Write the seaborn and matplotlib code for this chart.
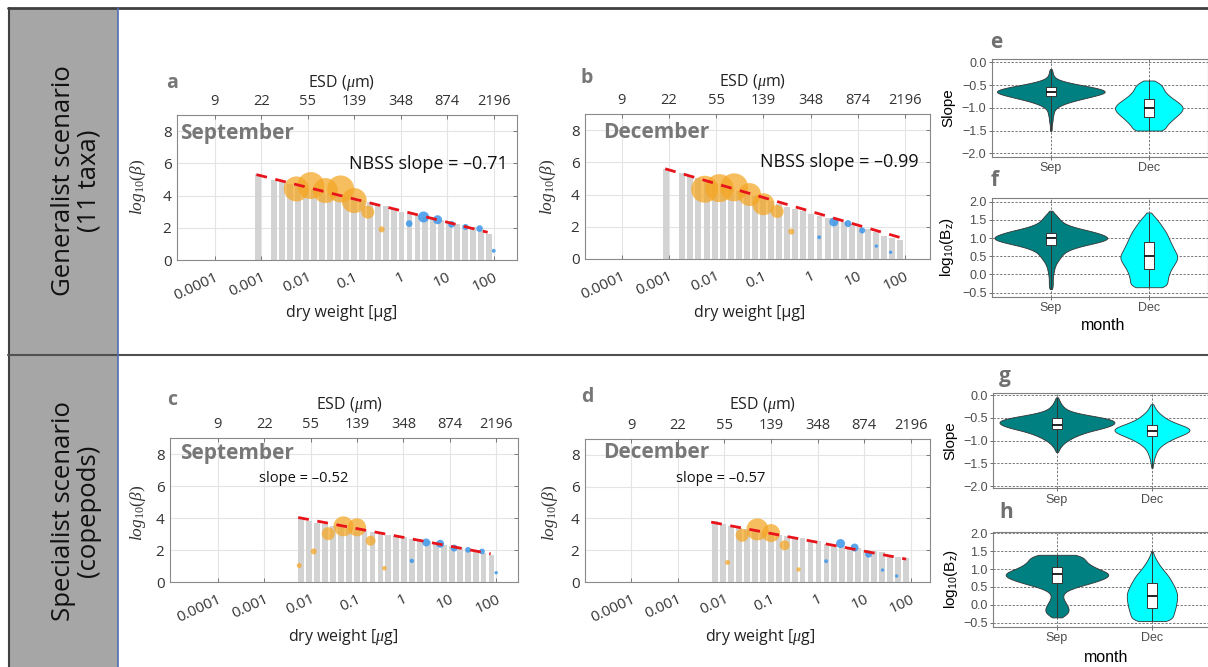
import numpy as np
import pandas as pd
import matplotlib
matplotlib.use("Agg")
import matplotlib.pyplot as plt
import seaborn as sns
from matplotlib.patches import Rectangle
from matplotlib.lines import Line2D
from matplotlib.ticker import NullLocator

# ------------------------------------------------------------------ data
# size bins (dry weight, ug) of the NBSS bars
dw_bins = [0.000871, 0.001291, 0.001914, 0.002838, 0.004207, 0.006237, 0.009247,
           0.01371, 0.02032, 0.03013, 0.04467, 0.06622, 0.09817, 0.1455, 0.2158,
           0.3199, 0.4742, 0.7031, 1.042, 1.545, 2.291, 3.396, 5.035, 7.464,
           11.07, 16.41, 24.32, 36.06, 53.46, 79.25]
gen_sep_bars = [5.33, 0.0, 4.96, 4.86, 4.73, 4.63, 4.50, 4.41, 4.27, 4.18, 4.05, 3.95,
                3.82, 3.73, 3.60, 3.49, 3.33, 3.18, 2.97, 2.86, 2.77, 2.67, 2.56, 2.46,
                2.36, 2.26, 2.15, 2.05, 1.85, 1.64]
gen_dec_bars = [5.60, 0.0, 5.33, 5.23, 5.03, 4.88, 4.72, 4.55, 4.40, 4.22, 4.06, 3.90,
                3.74, 3.58, 3.40, 3.22, 3.10, 3.00, 2.79, 2.69, 2.55, 2.42, 2.28, 2.18,
                1.98, 1.87, 1.67, 1.40, 1.32, 1.16]
# copepod bars start at the 6th bin
spec_sep_bars = [3.98, 3.79, 3.69, 3.60, 3.52, 3.44, 3.36, 3.28, 3.20, 3.13, 3.06, 2.96,
                 2.85, 2.79, 2.70, 2.64, 2.54, 2.42, 2.33, 2.22, 2.12, 2.02, 1.92, 1.82, 1.70]
spec_dec_bars = [3.81, 3.62, 3.55, 3.42, 3.33, 3.22, 3.12, 3.03, 2.96, 2.90, 2.83, 2.75,
                 2.67, 2.56, 2.42, 2.36, 2.28, 2.20, 2.12, 2.02, 1.94, 1.86, 1.73, 1.60, 1.52]

# taxa points (dry weight, ug)
orange_dw = [0.0057, 0.0117, 0.024, 0.051, 0.100, 0.196, 0.39]
blue_dw = [1.52, 3.1, 6.2, 12.4, 24.7, 49.5, 100.0]

gen_sep_orange = [4.41, 4.62, 4.31, 4.41, 3.69, 2.97, 1.90]
gen_sep_orange_size = [324, 378, 324, 378, 324, 88, 19]
gen_sep_blue = [2.26, 2.67, 2.50, 2.21, 2.05, 1.95, 0.57]
gen_sep_blue_size = [23, 63, 42, 23, 19, 23, 8]

gen_dec_orange = [4.33, 4.40, 4.45, 4.00, 3.40, 2.95, 1.70]
gen_dec_orange_size = [378, 406, 406, 274, 251, 88, 19]
gen_dec_blue = [1.35, 2.30, 2.20, 1.77, 0.80, 0.42]
gen_dec_blue_size = [8, 42, 25, 19, 6, 6]

spec_sep_orange = [1.03, 1.91, 3.02, 3.48, 3.42, 2.58, 0.86]
spec_sep_orange_size = [13, 19, 88, 207, 170, 52, 11]
spec_sep_blue = [1.32, 2.47, 2.39, 2.12, 2.01, 1.91, 0.58]
spec_sep_blue_size = [10, 33, 33, 25, 17, 17, 6]

spec_dec_orange = [1.23, 2.94, 3.31, 3.08, 2.31, 0.79]
spec_dec_orange_size = [13, 88, 251, 168, 52, 10]
spec_dec_blue = [1.31, 2.42, 2.17, 1.75, 0.75, 0.38]
spec_dec_blue_size = [8, 42, 33, 25, 6, 6]

# fitted NBSS lines (end points)
gen_sep_fit_x, gen_sep_fit_y = [0.00079, 74.0], [5.30, 1.72]
gen_dec_fit_x, gen_dec_fit_y = [0.00083, 91.0], [5.60, 1.28]
spec_sep_fit_x, spec_sep_fit_y = [0.0054, 76.0], [4.03, 1.76]
spec_dec_fit_x, spec_dec_fit_y = [0.0052, 79.0], [3.77, 1.44]

dw_ticks = [1e-4, 1e-3, 1e-2, 1e-1, 1, 10, 100]
dw_labels = ['0.0001', '0.001', '0.01', '0.1', '1', '10', '100']
esd_labels = ['9', '22', '55', '139', '348', '874', '2196']

# violin distributions: (lowest level, counts per 0.05 step)
e_sep_lo = -1.50
e_sep_counts = [1, 1, 1, 1, 2, 2, 2, 3, 3, 4, 6, 10, 16, 24, 34, 44, 54, 60, 56, 46, 32, 20,
                10, 5, 3, 2, 2, 1]
e_dec_lo = -1.50
e_dec_counts = [30, 24, 26, 30, 33, 37, 41, 45, 49, 52, 53, 51, 47, 42, 37, 32, 28, 25, 22,
                22, 20, 16, 8]
f_sep_lo = -0.40
f_sep_counts = [2, 3, 3, 3, 3, 3, 3, 3, 4, 4, 5, 5, 6, 7, 8, 10, 12, 14, 16, 18,
                20, 25, 30, 40, 50, 65, 76, 88, 90, 86, 78, 70, 60, 45, 34, 26, 20, 16,
                14, 12, 10, 7, 4, 2]
f_dec_lo = -0.35
f_dec_counts = [45, 33, 30, 31, 32, 32, 33, 34, 35, 36, 38, 40, 42, 44, 46, 48, 50, 50, 48,
                46, 44, 42, 41, 40, 38, 36, 35, 34, 33, 31, 29, 28, 26, 23, 21, 19, 17, 15,
                12, 9, 6, 3]
g_sep_lo = -1.25
g_sep_counts = [1, 2, 3, 5, 7, 10, 14, 18, 24, 30, 40, 48, 54, 56, 54, 46, 32, 20, 12, 8, 6,
                4, 3, 2, 1]
g_dec_lo = -1.60
g_dec_counts = [1, 1, 2, 2, 3, 4, 5, 6, 8, 10, 14, 18, 24, 30, 38, 46, 52, 54, 48, 38, 30,
                23, 18, 14, 10, 7, 5, 3, 2]
h_sep_lo = -0.35
h_sep_counts = [4, 8, 10, 11, 11, 11, 10, 9, 8, 7, 6, 5, 5, 5, 6, 8, 12, 17, 23, 30, 36, 40,
                44, 48, 50, 47, 42, 37, 33, 30, 28, 26, 25, 24, 24, 30]
h_dec_lo = -0.45
h_dec_counts = [50, 40, 40, 42, 43, 44, 45, 46, 47, 48, 48, 49, 49, 50, 50, 50, 49, 48, 46,
                45, 43, 41, 39, 37, 35, 33, 30, 27, 24, 21, 18, 16, 13, 11, 9, 7, 5, 4, 2, 1]

months = ['Sep', 'Dec']

# ------------------------------------------------------------------ style
W, H = 1208, 667
sns.set_theme(style="white")
plt.rcParams['font.family'] = ['Open Sans', 'DejaVu Sans']
plt.rcParams['mathtext.fontset'] = 'custom'
plt.rcParams['mathtext.rm'] = 'Liberation Serif'
plt.rcParams['mathtext.it'] = 'Liberation Serif:italic'
plt.rcParams['mathtext.bf'] = 'Liberation Serif:bold'
plt.rcParams['mathtext.sf'] = 'Liberation Sans'

fig = plt.figure(figsize=(W / 100, H / 100), dpi=100)
fig.patch.set_facecolor('white')


def rect(l, t, r, b):
    return [l / W, 1 - b / H, (r - l) / W, (b - t) / H]


def ftext(x, y, s, **kw):
    return fig.text(x / W, 1 - y / H, s, **kw)


# frame / side strip
fig.add_artist(Rectangle((8 / W, 0), 110 / W, 1 - 8 / H, transform=fig.transFigure,
                         facecolor='#a6a6a6', edgecolor='none', zorder=0))
fig.add_artist(Line2D([8 / W, 1], [1 - 8 / H] * 2, color='#404040', lw=2,
                      transform=fig.transFigure))
fig.add_artist(Line2D([8.5 / W] * 2, [0, 1 - 8 / H], color='#404040', lw=1.5,
                      transform=fig.transFigure))
fig.add_artist(Line2D([8 / W, 1], [1 - 355 / H] * 2, color='#505050', lw=1.5,
                      transform=fig.transFigure))
fig.add_artist(Line2D([118 / W] * 2, [0, 1 - 8 / H], color='#4f6fb0', lw=1.2,
                      transform=fig.transFigure))
ftext(76, 181, 'Generalist scenario\n(11 taxa)', rotation=90, ha='center', va='center',
      multialignment='center', fontsize=18.5, color='#111111', linespacing=1.05)
ftext(76, 511, 'Specialist scenario\n(copepods)', rotation=90, ha='center', va='center',
      multialignment='center', fontsize=18.5, color='#111111', linespacing=1.05)

GRAY_TXT = '#777777'


def nbss_panel(box, xlim_log, bars_x, bars_h, o_x, o_y, o_s, b_x, b_y, b_s, fit_x, fit_y,
               month, month_xy, stext, s_xy, s_kw, esd_xy, dw_xy, dw_label, yl_xy,
               letter, letter_xy):
    ax = fig.add_axes(rect(*box))
    half = 0.063
    lefts = [c * 10 ** -half for c in bars_x]
    widths = [c * (10 ** half - 10 ** -half) for c in bars_x]
    ax.bar(lefts, bars_h, width=widths, align='edge', color='#d3d3d3', linewidth=0,
           zorder=2)
    sns.scatterplot(x=o_x, y=o_y, s=o_s, color='#f5a623', alpha=0.72, linewidth=0,
                    ax=ax, zorder=4, legend=False)
    sns.scatterplot(x=b_x, y=b_y, s=b_s, color='#3d97ea', alpha=0.85, linewidth=0,
                    ax=ax, zorder=4, legend=False)
    ax.plot(fit_x, fit_y, color='#e8141b', lw=2.0, linestyle=(0, (3.9, 3.1)), zorder=5,
            dash_capstyle='butt')
    ax.set_xscale('log')
    ax.set_xlim(10 ** xlim_log[0], 10 ** xlim_log[1])
    ax.set_ylim(0, 9)
    ax.set_xticks(dw_ticks)
    ax.set_xticklabels(dw_labels, rotation=25, ha='right', va='top',
                       rotation_mode='anchor')
    ax.xaxis.set_minor_locator(NullLocator())
    ax.set_yticks([0, 2, 4, 6, 8])
    ax.tick_params(direction='in', length=3, width=0.6, color='#666666', labelsize=11,
                   labelcolor='#333333', right=True, top=False)
    ax.tick_params(axis='x', pad=7)
    ax.tick_params(axis='y', pad=4)
    ax.grid(True, color='#e4e4e4', lw=0.8)
    ax.set_axisbelow(True)
    for sp in ax.spines.values():
        sp.set_color('#8a8a8a')
        sp.set_linewidth(0.8)
    ax.set_xlabel('')
    ax.set_ylabel('')
    ax2 = ax.twiny()
    ax2.set_xscale('log')
    ax2.set_xlim(ax.get_xlim())
    ax2.set_xticks(dw_ticks)
    ax2.set_xticklabels(esd_labels)
    ax2.xaxis.set_minor_locator(NullLocator())
    ax2.tick_params(direction='in', length=3, width=0.6, color='#666666', labelsize=10.5,
                    labelcolor='#333333', pad=4)
    for sp in ax2.spines.values():
        sp.set_visible(False)
    ftext(*month_xy, month, fontsize=15, fontweight='bold', color=GRAY_TXT,
          ha='left', va='center')
    ftext(*s_xy, stext, va='center', color='#111111', **s_kw)
    ftext(*esd_xy, r'ESD ($\mu$m)', fontsize=11.5, color='#222222', ha='center',
          va='center')
    ftext(*dw_xy, dw_label, fontsize=11.5, color='#222222', ha='center', va='center')
    ftext(*yl_xy, r'$log_{10}(\beta)$', fontsize=12.5, color='#333333', rotation=90,
          ha='center', va='center')
    ftext(*letter_xy, letter, fontsize=14, fontweight='bold', color=GRAY_TXT,
          ha='center', va='center')
    return ax


nbss_panel((177, 115, 517, 260), (-4.81, 2.50), dw_bins, gen_sep_bars,
           orange_dw, gen_sep_orange, gen_sep_orange_size,
           blue_dw, gen_sep_blue, gen_sep_blue_size, gen_sep_fit_x, gen_sep_fit_y,
           'September', (180, 133), 'NBSS slope = \u20130.71', (508, 164),
           dict(fontsize=13, ha='right'), (342, 83), (342, 313), 'dry weight [\u00b5g]',
           (138, 187), 'a', (172, 83))
nbss_panel((585, 114, 930, 259), (-4.78, 2.53), dw_bins, gen_dec_bars,
           orange_dw, gen_dec_orange, gen_dec_orange_size,
           blue_dw[:6], gen_dec_blue, gen_dec_blue_size, gen_dec_fit_x, gen_dec_fit_y,
           'December', (603, 133), 'NBSS slope = \u20130.99', (919, 162),
           dict(fontsize=13, ha='right'), (753, 82), (750, 313), 'dry weight [\u00b5g]',
           (548, 187), 'b', (587, 78))
nbss_panel((170, 438, 518, 582), (-5.03, 2.47), dw_bins[5:], spec_sep_bars,
           orange_dw, spec_sep_orange, spec_sep_orange_size,
           blue_dw, spec_sep_blue, spec_sep_blue_size, spec_sep_fit_x, spec_sep_fit_y,
           'September', (180, 453), 'slope = \u20130.52', (259, 479),
           dict(fontsize=10.5, ha='left'), (350, 405), (343, 637), r'dry weight [$\mu$g]',
           (138, 513), 'c', (172, 400))
nbss_panel((585, 439, 930, 582), (-4.99, 2.41), dw_bins[5:], spec_dec_bars,
           orange_dw[1:], spec_dec_orange, spec_dec_orange_size,
           blue_dw[:6], spec_dec_blue, spec_dec_blue_size, spec_dec_fit_x, spec_dec_fit_y,
           'December', (603, 453), 'slope = \u20130.57', (676, 479),
           dict(fontsize=10.5, ha='left'), (763, 405), (760, 637), r'dry weight [$\mu$g]',
           (550, 513), 'd', (587, 397))

SEP_C = '#008080'
DEC_C = '#00ffff'


def expand(lo, counts):
    levels = np.round(lo + 0.05 * np.arange(len(counts)), 2)
    return np.repeat(levels, counts)


def violin_panel(box, xlim, sep_lo, sep_counts, dec_lo, dec_counts, widths, ylim, yticks,
                 ylabels, ylabel, ylab_x, show_month, month_xy, letter, letter_xy):
    ax = fig.add_axes(rect(*box))
    sep = expand(sep_lo, sep_counts)
    dec = expand(dec_lo, dec_counts)
    df = pd.DataFrame({'month': ['Sep'] * len(sep) + ['Dec'] * len(dec),
                       'value': np.concatenate([sep, dec])})
    for m, col, w in [('Sep', SEP_C, widths[0]), ('Dec', DEC_C, widths[1])]:
        sns.violinplot(data=df[df['month'] == m], x='month', y='value', order=months,
                       color=col, saturation=1, width=w, cut=0, inner=None,
                       density_norm='width', bw_adjust=0.75, linewidth=0.6,
                       linecolor='#333333', ax=ax)
    sns.boxplot(data=df, x='month', y='value', order=months, color='white',
                linecolor='#333333', width=0.1, whis=(0, 100), showfliers=False,
                showcaps=False, linewidth=0.7,
                medianprops=dict(color='#111111', linewidth=1.3), ax=ax)
    ax.set_xlim(*xlim)
    ax.set_ylim(*ylim)
    ax.set_xticks([0, 1])
    ax.set_xticklabels(months)
    ax.set_yticks(yticks)
    ax.set_yticklabels(ylabels)
    ax.grid(True, linestyle=(0, (3, 2)), color='#555555', lw=0.55)
    ax.set_axisbelow(True)
    ax.tick_params(direction='out', length=2.5, width=0.6, color='#555555', labelsize=9,
                   labelcolor='#4d4d4d', pad=1.5, left=True, bottom=True)
    for lbl in ax.get_xticklabels() + ax.get_yticklabels():
        lbl.set_fontfamily('Liberation Sans')
    for sp in ax.spines.values():
        sp.set_color('#7f7f7f')
        sp.set_linewidth(0.8)
    ax.set_ylabel(ylabel, fontsize=11, color='black', family='Liberation Sans')
    ax.yaxis.set_label_coords(ylab_x, 0.5)
    if show_month:
        ax.set_xlabel('month', fontsize=11.5, color='black', family='Liberation Sans')
        ax.xaxis.set_label_coords(*month_xy)
    else:
        ax.set_xlabel('')
    ftext(*letter_xy, letter, fontsize=15, fontweight='bold', color='#707070',
          ha='center', va='center')
    return ax


slope_ticks = [0.0, -0.5, -1.0, -1.5, -2.0]
slope_labels = ['0.0', '\u22120.5', '\u22121.0', '\u22121.5', '\u22122.0']
bz_ticks = [2.0, 1.5, 1.0, 0.5, 0.0, -0.5]
bz_labels = ['2.0', '1.5', '1.0', '0.5', '0.0', '\u22120.5']
bz_title = r'log$_{\mathsf{10}}$(B$_{\mathsf{z}}$)'

violin_panel((992, 59.3, 1207.6, 156.7), (-0.6, 1.6), e_sep_lo, e_sep_counts, e_dec_lo,
             e_dec_counts, (1.10, 0.69), (-2.075, 0.066), slope_ticks, slope_labels,
             'Slope', -0.172, False, None, 'e', (996, 43))
violin_panel((992, 198.3, 1207.6, 296.7), (-0.6, 1.6), f_sep_lo, f_sep_counts, f_dec_lo,
             f_dec_counts, (1.15, 0.58), (-0.61, 2.09), bz_ticks, bz_labels,
             bz_title, -0.165, True, (0.515, -0.216), 'f', (995, 181))
violin_panel((993.3, 393.3, 1215.6, 488.3), (-0.67, 1.67), g_sep_lo, g_sep_counts,
             g_dec_lo, g_dec_counts, (1.21, 0.79), (-2.05, 0.04), slope_ticks,
             slope_labels, 'Slope', -0.163, False, None, 'g', (1005, 377))
violin_panel((993.3, 531.7, 1215.6, 626.7), (-0.67, 1.67), h_sep_lo, h_sep_counts,
             h_dec_lo, h_dec_counts, (1.08, 0.53), (-0.61, 2.045), bz_ticks, bz_labels,
             bz_title, -0.15, True, (0.507, -0.245), 'h', (1006, 513))

fig.savefig('out.png', dpi=100, facecolor='white')
